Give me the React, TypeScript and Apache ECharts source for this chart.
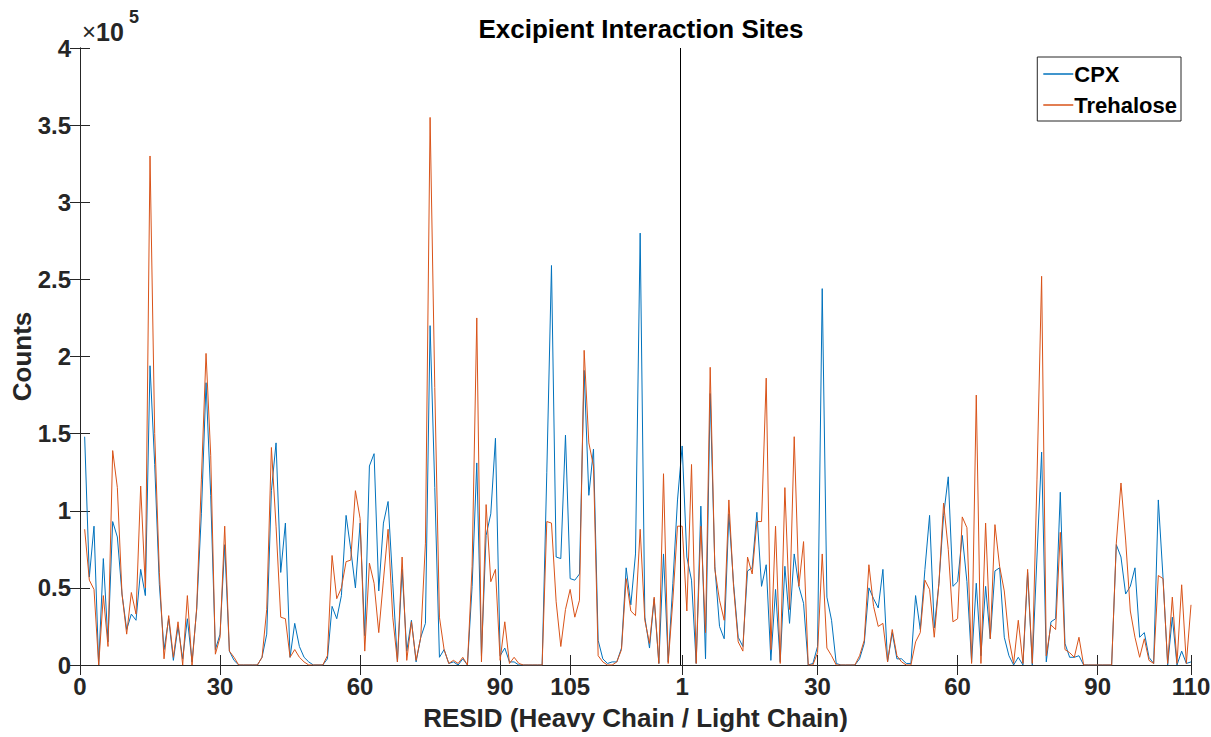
import React, { useEffect, useRef } from "react";
import * as echarts from "echarts";

// Values in units of 1e5 counts. Heavy chain: residues 1..128 ; light chain: residues 1..110
const CPX_HEAVY = [
  1.48, 0.57, 0.9, 0, 0.69, 0.15, 0.93, 0.83, 0.46, 0.23,
  0.33, 0.29, 0.62, 0.45, 1.94, 1.3, 0.52, 0.1, 0.3, 0.03,
  0.25, 0.04, 0.3, 0.02, 0.36, 0.98, 1.83, 1.1, 0.1, 0.2,
  0.78, 0.09, 0.03, 0, 0, 0, 0, 0, 0.05, 0.2,
  1.13, 1.44, 0.6, 0.92, 0.05, 0.27, 0.12, 0.05, 0.02, 0,
  0, 0, 0.04, 0.38, 0.3, 0.45, 0.97, 0.75, 0.5, 0.92,
  0.19, 1.29, 1.37, 0.48, 0.92, 1.06, 0.53, 0.02, 0.62, 0.09,
  0.29, 0.02, 0.18, 0.27, 2.2, 1.15, 0.05, 0.1, 0.01, 0.02,
  0, 0.04, 0, 0.51, 1.31, 0.06, 0.84, 0.98, 1.47, 0.06,
  0.11, 0.02, 0.02, 0, 0, 0, 0, 0, 0, 1.25,
  2.59, 0.7, 0.69, 1.49, 0.56, 0.55, 0.59, 1.91, 1.1, 1.4,
  0.16, 0.04, 0.01, 0.02, 0.02, 0.11, 0.63, 0.39, 0.72, 2.8,
  0.31, 0.11, 0.43, 0.01, 0.72, 0.02, 0.53, 1.07,
];
const CPX_LIGHT = [
  1.42, 0.7, 0.55, 0.01, 1.03, 0.04, 1.76, 0.64, 0.25, 0.17,
  0.98, 0.53, 0.18, 0.12, 0.61, 0.63, 0.99, 0.51, 0.65, 0.03,
  0.49, 0.02, 0.64, 0.27, 0.72, 0.51, 0.4, 0, 0.01, 0.12,
  2.44, 0.44, 0.29, 0.01, 0, 0, 0, 0, 0.04, 0.14,
  0.5, 0.43, 0.37, 0.62, 0.02, 0.21, 0.04, 0.04, 0.01, 0.01,
  0.45, 0.23, 0.62, 0.97, 0.24, 0.53, 0.97, 1.22, 0.51, 0.54,
  0.84, 0.54, 0.02, 0.53, 0.06, 0.51, 0.17, 0.61, 0.63, 0.18,
  0.06, 0, 0.05, 0, 0.6, 0, 0.7, 1.38, 0.02, 0.28,
  0.3, 1.12, 0.14, 0.05, 0.05, 0.06, 0, 0, 0, 0,
  0, 0, 0, 0.78, 0.7, 0.46, 0.51, 0.63, 0.18, 0.21,
  0.05, 0.01, 1.07, 0.57, 0, 0.31, 0, 0.09, 0.01, 0.02,
];
const TRE_HEAVY = [
  0.88, 0.55, 0.49, 0, 0.45, 0.12, 1.39, 1.15, 0.46, 0.2,
  0.47, 0.33, 1.16, 0.5, 3.3, 1.5, 0.6, 0.04, 0.32, 0.05,
  0.28, 0, 0.45, 0, 0.37, 1.2, 2.02, 1.36, 0.07, 0.18,
  0.9, 0.09, 0.05, 0, 0, 0, 0, 0, 0.05, 0.36,
  1.41, 0.9, 0.31, 0.3, 0.05, 0.1, 0.05, 0.02, 0, 0,
  0, 0, 0.06, 0.71, 0.43, 0.5, 0.67, 0.68, 1.13, 0.95,
  0.09, 0.66, 0.53, 0.21, 0.55, 0.88, 0.31, 0.02, 0.7, 0.03,
  0.28, 0.03, 0.18, 0.79, 3.55, 1.8, 0.31, 0.1, 0.01, 0.03,
  0.01, 0.05, 0, 0.64, 2.25, 0.02, 1.04, 0.54, 0.62, 0.03,
  0.28, 0.01, 0.05, 0.01, 0, 0, 0, 0, 0, 0.93,
  0.92, 0.41, 0.12, 0.36, 0.49, 0.31, 0.42, 2.04, 1.44, 1.29,
  0.06, 0.02, 0, 0, 0.02, 0.1, 0.56, 0.35, 0.32, 0.88,
  0.29, 0.14, 0.44, 0.01, 1.24, 0.01, 0.42, 0.9,
];
const TRE_LIGHT = [
  0.9, 0.35, 1.3, 0.01, 0.9, 0.21, 1.93, 0.62, 0.42, 0.29,
  1.07, 0.51, 0.15, 0.09, 0.7, 0.59, 0.93, 0.93, 1.86, 0.1,
  0.9, 0.01, 1.15, 0.36, 1.48, 0.51, 0.8, 0, 0, 0.08,
  0.72, 0.11, 0.06, 0, 0, 0, 0, 0, 0.06, 0.16,
  0.65, 0.38, 0.25, 0.27, 0.02, 0.23, 0.06, 0.02, 0, 0,
  0.15, 0.21, 0.55, 0.49, 0.18, 0.53, 1.05, 0.75, 0.28, 0.3,
  0.96, 0.89, 0.01, 1.75, 0.01, 0.92, 0.17, 0.91, 0.64, 0.48,
  0.17, 0.01, 0.29, 0.01, 0.62, 0.01, 1.2, 2.52, 0.06, 0.26,
  0.23, 0.86, 0.1, 0.08, 0.05, 0.18, 0, 0, 0, 0,
  0, 0, 0, 0.79, 1.18, 0.81, 0.35, 0.18, 0.05, 0.17,
  0.03, 0.01, 0.58, 0.56, 0.01, 0.44, 0.01, 0.52, 0.01, 0.39,
];

const HEAVY_TICKS = [0, 30, 60, 90, 105];
const LIGHT_TICKS = [1, 30, 60, 90, 110];
const HEAVY_LEN = CPX_HEAVY.length; // light residue r sits at position HEAVY_LEN + r
const SERIES_NAMES = ["CPX", "Trehalose"];
const SERIES_COLORS = ["#0072BD", "#D95319"];
const Y_TICKS_MAX = 4;

const FONT = "'Liberation Sans', Arial, Helvetica, sans-serif";
const AXIS_COLOR = "#262626";

function toPoints(heavy: number[], light: number[]) {
  const pts: number[][] = [];
  heavy.forEach((v, k) => pts.push([k + 1, v]));
  light.forEach((v, k) => pts.push([HEAVY_LEN + k + 1, v]));
  return pts;
}

export default function App() {
  const ref = useRef<HTMLDivElement>(null);
  useEffect(() => {
    if (!ref.current) return;
    const chart = echarts.init(ref.current, null, { renderer: "svg" });
    const tickPos: number[] = [];
    const tickLabel: Record<string, string> = {};
    HEAVY_TICKS.forEach((r) => {
      tickPos.push(r);
      tickLabel[String(r)] = String(r);
    });
    LIGHT_TICKS.forEach((r) => {
      tickPos.push(HEAVY_LEN + r);
      tickLabel[String(HEAVY_LEN + r)] = String(r);
    });
    const xMax = HEAVY_LEN + LIGHT_TICKS[LIGHT_TICKS.length - 1];
    const boundary = HEAVY_LEN + 0.5;

    const commonX = {
      type: "value",
      min: 0,
      max: xMax,
      splitLine: { show: false },
      axisLine: { show: true, lineStyle: { color: AXIS_COLOR, width: 1 } },
      axisTick: {
        show: true,
        inside: true,
        length: 10,
        customValues: tickPos,
        lineStyle: { color: AXIS_COLOR, width: 1 },
      },
    };
    const commonY = {
      type: "value",
      min: 0,
      max: Y_TICKS_MAX,
      interval: 0.5,
      splitLine: { show: false },
      axisLine: { show: true, lineStyle: { color: AXIS_COLOR, width: 1 } },
      axisTick: { show: true, inside: true, length: 10, lineStyle: { color: AXIS_COLOR, width: 1 } },
    };

    chart.setOption({
      animation: false,
      backgroundColor: "#ffffff",
      title: {
        text: "Excipient Interaction Sites",
        left: 636,
        top: 11,
        textAlign: "center",
        textStyle: { fontFamily: FONT, fontSize: 26, fontWeight: "bold", color: "#000" },
      },
      legend: {
        data: SERIES_NAMES.map((n) => ({ name: n, icon: "rect" })),
        orient: "vertical",
        right: 30,
        top: 57,
        backgroundColor: "#ffffff",
        borderColor: AXIS_COLOR,
        borderWidth: 1,
        padding: [6, 4, 5, 6],
        itemGap: 9,
        itemWidth: 30,
        itemHeight: 1.5,
        textStyle: { fontFamily: FONT, fontSize: 22, fontWeight: "bold", color: "#000", padding: [0, 0, 0, -4] },
      },
      grid: { left: 80, right: 20, top: 48, bottom: 72, outerBoundsMode: "none", containLabel: false },
      xAxis: [
        {
          ...commonX,
          position: "bottom",
          name: "RESID (Heavy Chain / Light Chain)",
          nameLocation: "middle",
          nameGap: 40,
          nameMoveOverlap: false,
          nameTextStyle: { fontFamily: FONT, fontSize: 26, fontWeight: "bold", color: AXIS_COLOR },
          axisLabel: {
            show: true,
            customValues: tickPos,
            margin: 9,
            fontFamily: FONT,
            fontSize: 24,
            fontWeight: "bold",
            color: AXIS_COLOR,
            formatter: (v: number) => tickLabel[String(v)] ?? "",
          },
        },
        { ...commonX, position: "top", axisLabel: { show: false } },
      ],
      yAxis: [
        {
          ...commonY,
          position: "left",
          name: "Counts",
          nameLocation: "middle",
          nameGap: 45,
          nameMoveOverlap: false,
          nameTextStyle: { fontFamily: FONT, fontSize: 26, fontWeight: "bold", color: AXIS_COLOR },
          axisLabel: {
            show: true,
            margin: 9,
            fontFamily: FONT,
            fontSize: 24,
            fontWeight: "bold",
            color: AXIS_COLOR,
          },
        },
        { ...commonY, position: "right", axisLabel: { show: false } },
      ],
      graphic: [
        {
          type: "text",
          left: 82,
          top: 19,
          style: {
            text: "{x|×}{t|10}",
            rich: {
              x: { fontFamily: FONT, fontSize: 24, fontWeight: "normal", fill: AXIS_COLOR },
              t: { fontFamily: FONT, fontSize: 25, fontWeight: "bold", fill: AXIS_COLOR },
            },
          },
        },
        {
          type: "text",
          left: 129,
          top: 8,
          style: { text: "5", fontFamily: FONT, fontSize: 18, fontWeight: "bold", fill: AXIS_COLOR },
        },
      ],
      series: [
        {
          name: SERIES_NAMES[0],
          type: "line",
          xAxisIndex: 0,
          yAxisIndex: 0,
          data: toPoints(CPX_HEAVY, CPX_LIGHT),
          symbol: "none",
          showSymbol: false,
          lineStyle: { color: SERIES_COLORS[0], width: 1 },
          itemStyle: { color: SERIES_COLORS[0] },
          markLine: {
            silent: true,
            symbol: "none",
            label: { show: false },
            lineStyle: { color: "#000", width: 1, type: "solid" },
            data: [{ xAxis: boundary }],
          },
        },
        {
          name: SERIES_NAMES[1],
          type: "line",
          xAxisIndex: 0,
          yAxisIndex: 0,
          data: toPoints(TRE_HEAVY, TRE_LIGHT),
          symbol: "none",
          showSymbol: false,
          lineStyle: { color: SERIES_COLORS[1], width: 1 },
          itemStyle: { color: SERIES_COLORS[1] },
        },
      ],
    });
    return () => chart.dispose();
  }, []);
  return (
    <div
      ref={ref}
      style={{ position: "fixed", left: 0, top: 0, width: 1211, height: 737, background: "#fff" }}
    />
  );
}
